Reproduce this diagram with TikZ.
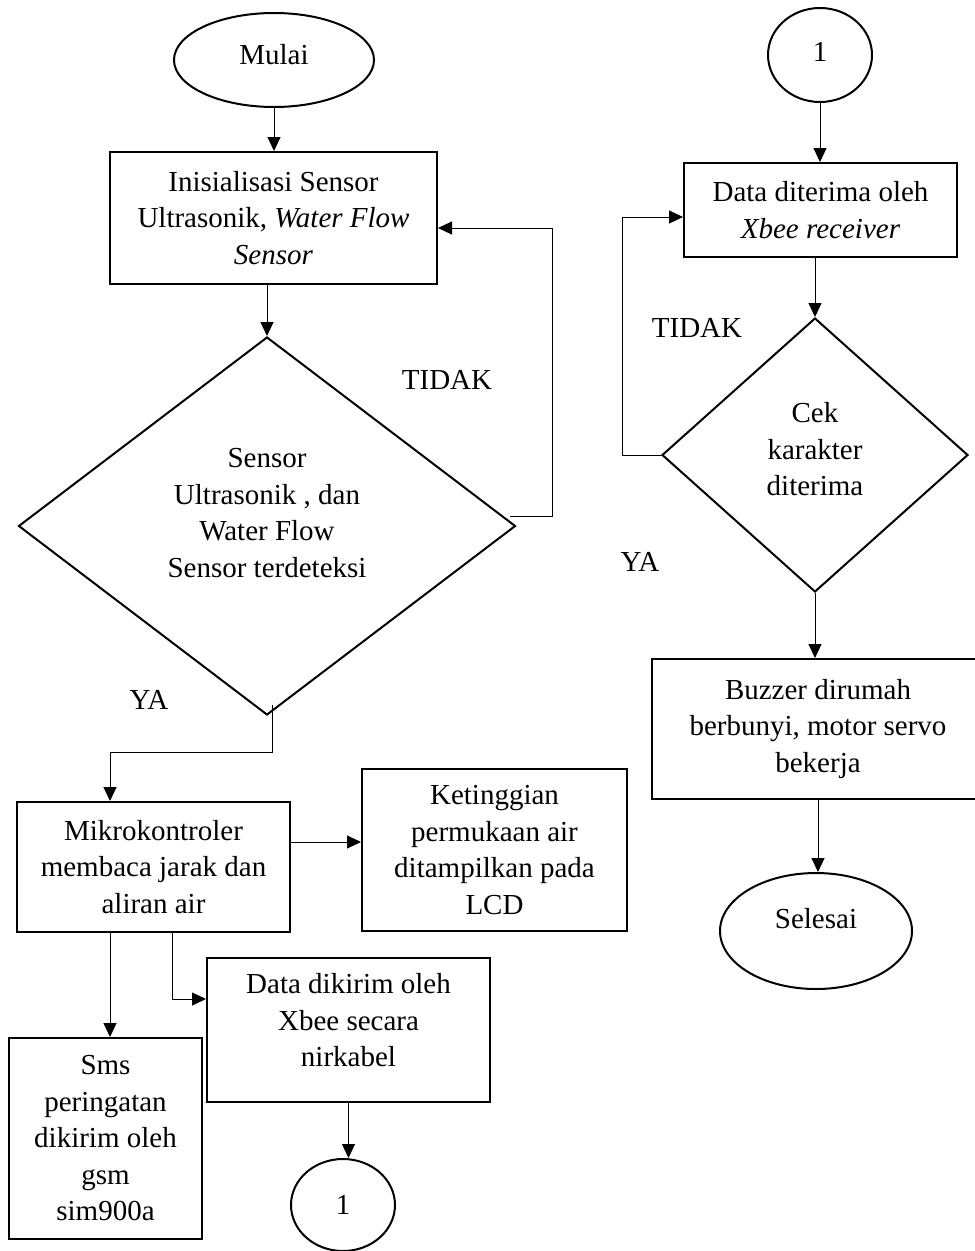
\documentclass[tikz,border=0pt]{standalone}
\usepackage{fontspec}
\setmainfont{Liberation Serif}
\usetikzlibrary{shapes.geometric,arrows.meta,calc}
\newcommand{\upby}[2]{\raisebox{#1}[\height][\depth]{#2}}
\newcommand{\lines}[1]{\begin{tabular}{@{}c@{}}#1\end{tabular}}
\begin{document}
\begin{tikzpicture}[x=1pt,y=-1pt,
  every node/.style={font=\fontsize{29}{36.5}\selectfont},
  box/.style={draw, line width=2pt, rectangle, align=center, inner sep=0pt},
  term/.style={draw, line width=2pt, ellipse, inner sep=0pt},
  dec/.style={draw, line width=2pt, diamond, align=center, inner sep=0pt},
  conn/.style={line width=1pt, -{Triangle[length=14pt,width=13pt]}},
  lbl/.style={inner sep=0pt}]
\useasboundingbox (0,0) rectangle (975,1251);
\clip (0,0) rectangle (975,1251);
\fill[white] (0,0) rectangle (975,1251);

% left column
\node[term, minimum width=200pt, minimum height=94pt] (mulai) at (274,60) {\upby{5pt}{Mulai}};
\node[box, minimum width=327pt, minimum height=132pt] (init) at (273.5,218) {Inisialisasi Sensor\\Ultrasonik, \textit{Water Flow}\\\textit{Sensor}};
\node[dec, minimum width=497pt, minimum height=378pt] (d1) at (267,526) {\upby{11pt}{\lines{Sensor\\Ultrasonik , dan\\Water Flow\\Sensor terdeteksi}}};
\node[box, minimum width=273pt, minimum height=130pt] (mikro) at (153.5,867) {Mikrokontroler\\membaca jarak dan\\aliran air};
\node[box, minimum width=265pt, minimum height=162pt] (lcd) at (494.5,850) {Ketinggian\\permukaan air\\ditampilkan pada\\LCD};
\node[box, minimum width=193pt, minimum height=201pt] (sms) at (105.5,1138.5) {Sms\\peringatan\\dikirim oleh\\gsm\\sim900a};
\node[box, minimum width=283pt, minimum height=144pt] (kirim) at (348.5,1030) {\upby{7pt}{\lines{Data dikirim oleh\\Xbee secara\\nirkabel}}};
\node[term, minimum width=104pt, minimum height=92pt] (c1b) at (343,1205) {1};

% right column
\node[term, minimum width=104pt, minimum height=94pt] (c1a) at (820,55) {\upby{3pt}{1}};
\node[box, minimum width=273pt, minimum height=94pt] (recv) at (820.5,210) {Data diterima oleh\\\textit{Xbee receiver}};
\node[dec, minimum width=306pt, minimum height=274pt] (d2) at (815,455) {\upby{3pt}{\lines{Cek\\karakter\\diterima}}};
\node[box, minimum width=332pt, minimum height=140pt] (buzz) at (818,729) {Buzzer dirumah\\berbunyi, motor servo\\bekerja};
\node[term, minimum width=192pt, minimum height=116pt] (selesai) at (816,931) {\upby{12pt}{Selesai}};

% labels
\node[lbl] (t1) at (447,380) {TIDAK};
\node[lbl] (y1) at (149,700) {YA};
\node[lbl] (t2) at (697,328) {TIDAK};
\node[lbl] (y2) at (640,562) {YA};

% connector coordinates
\coordinate (a1) at (510,516);
\coordinate (l1a) at (552,516);
\coordinate (l1b) at (552,228);
\coordinate (y1a) at (272,705);
\coordinate (y1b) at (272,752);
\coordinate (y1c) at (110,752);
\coordinate (l2) at (622,217);

% connectors
\draw[conn] (mulai.south) -- (mulai.south |- init.north);
\draw[conn] (d1.north |- init.south) -- (d1.north);
\draw[conn] (a1) -- (l1a) -- (l1b) -- (l1b -| init.east);
\draw[conn] (y1a) -- (y1b) -- (y1c) -- (y1c |- mikro.north);
\draw[conn] ([yshift=25pt]mikro.east) -- ([yshift=25pt]mikro.east -| lcd.west);
\draw[conn] ([xshift=-43.5pt]mikro.south) -- ([xshift=-43.5pt]mikro.south |- sms.north);
\draw[conn] ([xshift=18.5pt]mikro.south) |- ([yshift=31pt]kirim.west);
\draw[conn] (kirim.south) -- (kirim.south |- c1b.north);

\draw[conn] (c1a.south) -- (c1a.south |- recv.north);
\draw[conn] (d2.north |- recv.south) -- (d2.north);
\draw[conn] (d2.west) -| (l2) -- (l2 -| recv.west);
\draw[conn] (d2.south) -- (d2.south |- buzz.north);
\draw[conn] (buzz.south) -- (buzz.south |- selesai.north);
\end{tikzpicture}
\end{document}
